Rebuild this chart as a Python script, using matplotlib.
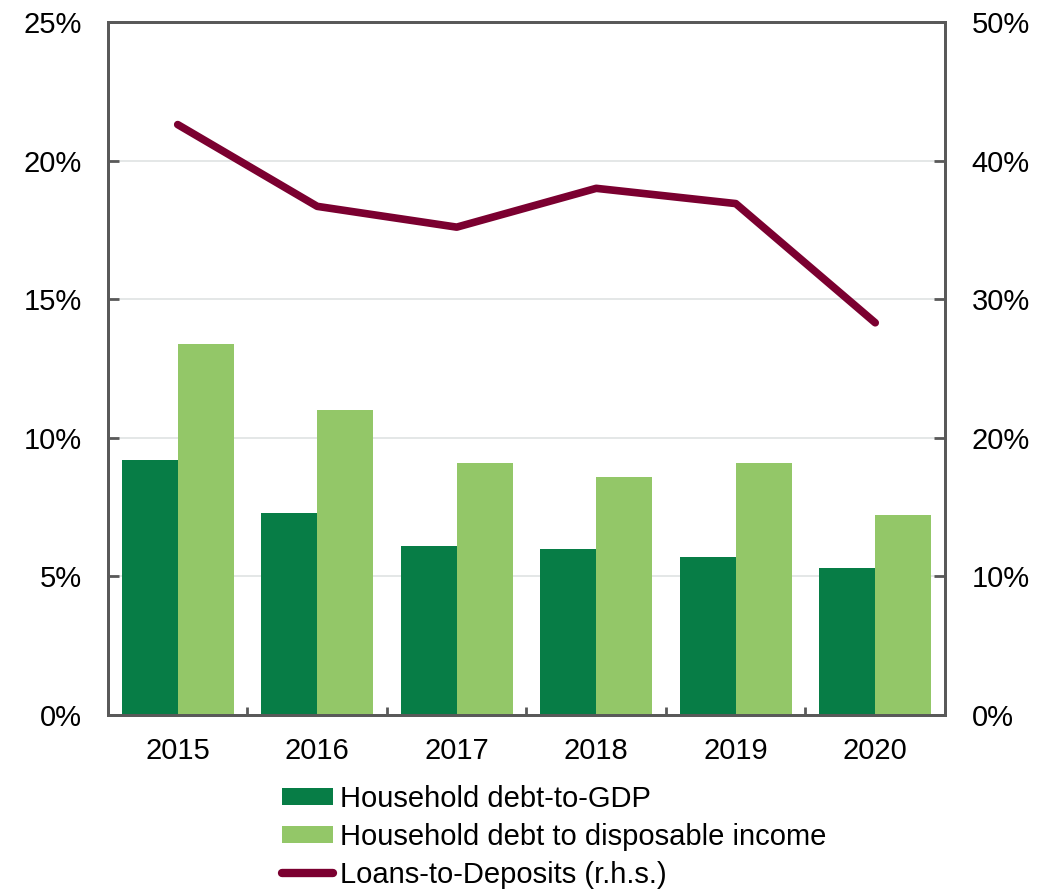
import matplotlib
matplotlib.use("Agg")
import matplotlib.pyplot as plt
import numpy as np
from matplotlib.patches import Patch
from matplotlib.lines import Line2D

plt.rcParams['font.family'] = ['Liberation Sans', 'DejaVu Sans']

years = ["2015", "2016", "2017", "2018", "2019", "2020"]
debt_to_gdp = [9.2, 7.3, 6.1, 6.0, 5.7, 5.3]
debt_to_income = [13.4, 11.0, 9.1, 8.6, 9.1, 7.2]
loans_to_deposits = [42.6, 36.7, 35.2, 38.0, 36.9, 28.3]

left_ticks = [0, 5, 10, 15, 20, 25]
right_ticks = [0, 10, 20, 30, 40, 50]

c_dark = "#077d46"
c_light = "#93c768"
c_line = "#7b0030"
c_spine = "#595959"
fs = 21

fig = plt.figure(figsize=(10.38, 8.91), dpi=100)
ax = fig.add_axes([0.104, 0.1975, 0.8064, 0.7778])
x = np.arange(len(years))
w = 0.4

ax.bar(x - w / 2, debt_to_gdp, width=w, color=c_dark, zorder=2)
ax.bar(x + w / 2, debt_to_income, width=w, color=c_light, zorder=2)

ax.set_xlim(-0.5, len(years) - 0.5)
ax.set_ylim(0, 25)
ax.set_yticks(left_ticks)
ax.set_yticklabels([f"{t}%" for t in left_ticks])
ax.yaxis.grid(True, color="#dfe3e3", linewidth=1.2, zorder=0)
ax.set_axisbelow(True)

ax.set_xticks(x)
ax.set_xticklabels(years)
ax.set_xticks(np.arange(len(years) + 1) - 0.5, minor=True)
ax.tick_params(axis="x", which="major", length=0, pad=16, labelsize=fs)
ax.tick_params(axis="x", which="minor", direction="in", length=6, width=2, color=c_spine)
ax.tick_params(axis="y", direction="in", length=8, width=2, color=c_spine, labelsize=fs, pad=19)

for s in ax.spines.values():
    s.set_color(c_spine)
    s.set_linewidth(2)

ax2 = ax.twinx()
ax2.plot(x, loans_to_deposits, color=c_line, linewidth=5.5, solid_capstyle="round",
         solid_joinstyle="round", zorder=3)
ax2.set_ylim(0, 50)
ax2.set_yticks(right_ticks)
ax2.set_yticklabels([f"{t}%" for t in right_ticks])
ax2.tick_params(axis="y", direction="in", length=8, width=2, color=c_spine, labelsize=fs, pad=19)
for s in ax2.spines.values():
    s.set_color(c_spine)
    s.set_linewidth(2)

handles = [
    Patch(facecolor=c_dark, edgecolor="none"),
    Patch(facecolor=c_light, edgecolor="none"),
    Line2D([0], [0], color=c_line, linewidth=6, solid_capstyle="round"),
]
labels = ["Household debt-to-GDP", "Household debt to disposable income",
          "Loans-to-Deposits (r.h.s.)"]
fig.legend(handles, labels, loc="upper left", bbox_to_anchor=(0.2717, 0.119),
           frameon=False, fontsize=fs, handlelength=1.75, handleheight=0.55,
           handletextpad=0.25, labelspacing=0.34, borderpad=0, borderaxespad=0)

fig.savefig("out.png", dpi=100)
